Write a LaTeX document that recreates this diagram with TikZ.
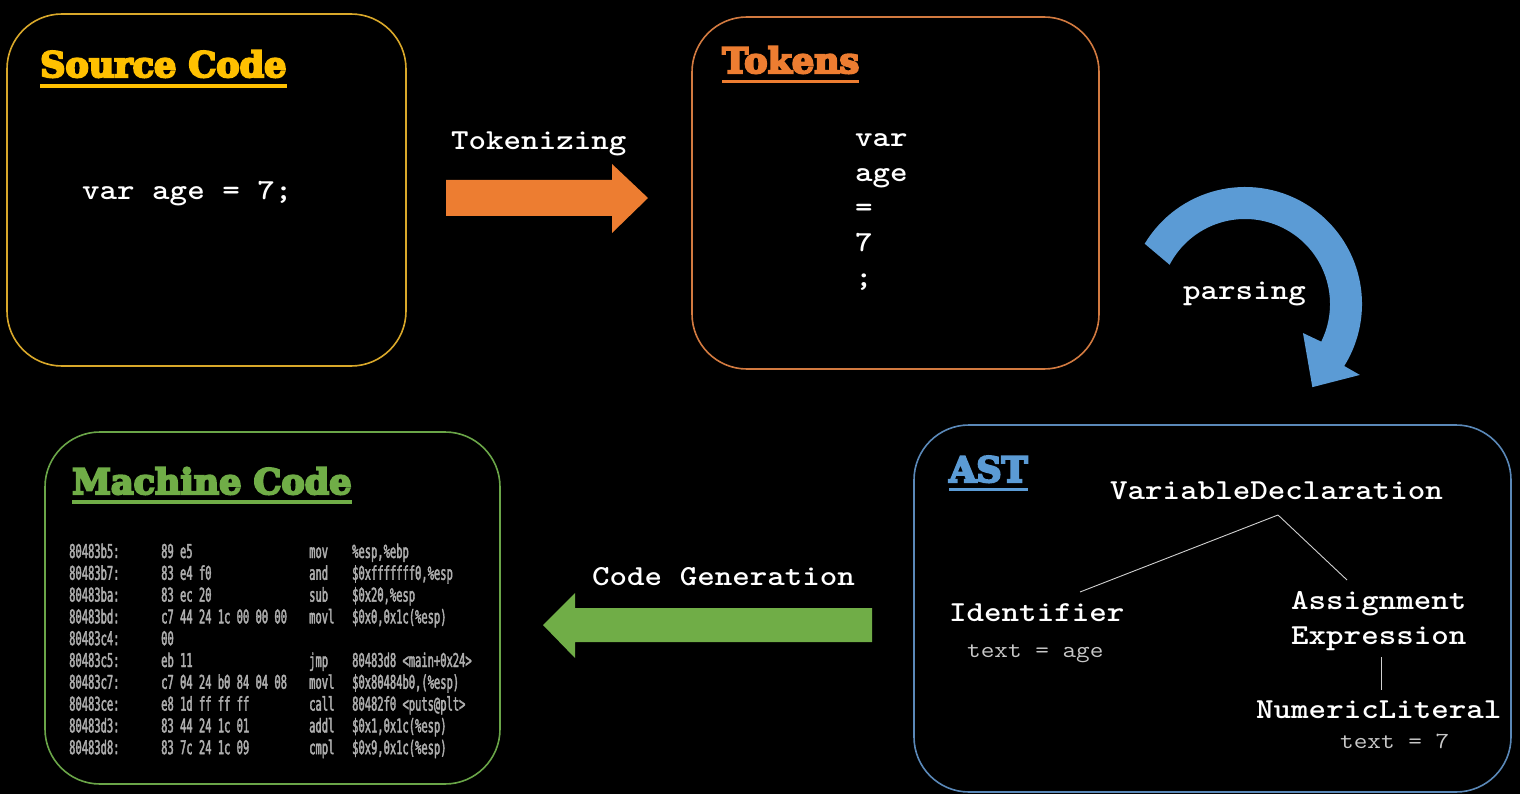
\documentclass[tikz,border=0pt]{standalone}
\usepackage{fontspec}
\usepackage{graphicx}
\newfontfamily\titlefont{DejaVu Serif}[FakeBold=6]
\newfontfamily\mcfont{DejaVu Sans Mono}[FakeStretch=0.55, FakeBold=2]
\newcommand\cw[1]{\scalebox{1.15}[1]{#1}}
\newcommand\mcrow[4]{\makebox[92pt][l]{#1}\makebox[148pt][l]{#2}\makebox[43pt][l]{#3}#4}
\definecolor{cgold}{HTML}{FFC000}
\definecolor{cgoldb}{HTML}{D9A82A}
\definecolor{corange}{HTML}{ED7D31}
\definecolor{corangeb}{HTML}{D27A40}
\definecolor{cblue}{HTML}{5B9BD5}
\definecolor{cblueb}{HTML}{5A88B8}
\definecolor{cgreen}{HTML}{70AD47}
\definecolor{cgreenb}{HTML}{6AA548}
\definecolor{subgray}{HTML}{C8C8C8}
\definecolor{mcgray}{HTML}{AEAEAE}
\definecolor{linegray}{HTML}{D0D0D0}
\begin{document}
\begin{tikzpicture}[x=1pt,y=-1pt,
  ttl/.style={font=\titlefont\bfseries\fontsize{35}{40}\selectfont, anchor=base west, inner sep=0},
  code/.style={font=\ttfamily\bfseries\fontsize{29}{35}\selectfont, text=white, anchor=base west, inner sep=0},
  sub/.style={font=\ttfamily\fontsize{23}{28}\selectfont, text=subgray, anchor=base west, inner sep=0},
  mc/.style={font=\mcfont\fontsize{19}{21.8}\selectfont, text=mcgray, anchor=base west, inner sep=0},
  panel/.style={draw, line width=1.6pt, rounded corners=55pt, inner sep=0},
  uline/.style={line width=3.5pt},
  tree/.style={draw=linegray, line width=0.9pt}]
\fill[black] (0,0) rectangle (1520,794);
\useasboundingbox (0,0) rectangle (1520,794);

% panels
\node[panel, draw=cgoldb, minimum width=399pt, minimum height=352pt] (src) at (206.5,190) {};
\node[panel, draw=corangeb, minimum width=407pt, minimum height=352pt] (tok) at (895.5,193) {};
\node[panel, draw=cblueb, minimum width=597pt, minimum height=367pt] (ast) at (1212.5,608.5) {};
\node[panel, draw=cgreenb, minimum width=455pt, minimum height=352pt] (mach) at (272.5,608) {};

% titles
\node[ttl, text=cgold] (t1) at (40,77) {Source Code};
\draw[uline, cgold] ([yshift=-9pt]t1.base west) -- ([yshift=-9pt]t1.base east);
\node[ttl, text=corange] (t2) at (722,73) {Tokens};
\draw[uline, corange] ([yshift=-8.5pt]t2.base west) -- ([yshift=-8.5pt]t2.base east);
\node[ttl, text=cblue] (t3) at (949,482) {AST};
\draw[uline, cblue] ([yshift=-7.5pt]t3.base west) -- ([yshift=-7.5pt]t3.base east);
\node[ttl, text=cgreen] (t4) at (72,494) {Machine Code};
\draw[uline, cgreen] ([yshift=-8pt]t4.base west) -- ([yshift=-8pt]t4.base east);

% source code
\node[code] (srccode) at (82,200) {\cw{var age = 7;}};

% tokens
\node[code] (k1) at (855,147) {\cw{var}};
\node[code] (k2) at (855,182) {\cw{age}};
\node[code] (k3) at (855,217) {\cw{=}};
\node[code] (k4) at (855,252) {\cw{7}};
\node[code] (k5) at (855,287) {\cw{;}};

% arrows
\fill[corange] (446,180) -- (612,180) -- (612,164) -- (648,198) -- (612,233) -- (612,216) -- (446,216) -- cycle;
\node[code] (lbltok) at (451,150) {\cw{Tokenizing}};

\begin{scope}[shift={(1245,304)}]
\fill[cblue] (211:117) arc[start angle=211, end angle=392, radius=117]
  -- (391.7:135) -- (411:107) -- (386.6:64.8) -- (386.3:85)
  arc[start angle=386.3, end angle=207.5, radius=85] -- cycle;
\end{scope}
\node[code] (lblparse) at (1183,299) {\cw{parsing}};

\fill[cgreen] (872,608) -- (575,608) -- (575,593) -- (543,625) -- (575,658) -- (575,642) -- (872,642) -- cycle;
\node[code] (lblgen) at (592,585) {\cw{Code Generation}};

% AST
\node[code] (vd) at (1110,499) {\cw{VariableDeclaration}};
\node[code] (id) at (949,621) {\cw{Identifier}};
\node[sub] (idt) at (967,657) {\cw{text = age}};
\node[code] (as1) at (1291,609) {\cw{Assignment}};
\node[code] (as2) at (1291,644) {\cw{Expression}};
\node[code] (nl) at (1256,718) {\cw{NumericLiteral}};
\node[sub] (nlt) at (1340,748) {\cw{text = 7}};
\coordinate (vdj) at (1278,515);
\coordinate (idj) at (1080,592);
\coordinate (asj) at (1347,580);
\coordinate (aej) at (1381,657);
\coordinate (nlj) at (1381,690);
\draw[tree] (vdj) -- (idj);
\draw[tree] (vdj) -- (asj);
\draw[tree] (aej) -- (nlj);

% machine code
\node[mc] (m1) at (69,558) {\mcrow{80483b5:}{89 e5}{mov}{\%esp,\%ebp}};
\node[mc] (m2) at (69,579.8) {\mcrow{80483b7:}{83 e4 f0}{and}{\$0xfffffff0,\%esp}};
\node[mc] (m3) at (69,601.6) {\mcrow{80483ba:}{83 ec 20}{sub}{\$0x20,\%esp}};
\node[mc] (m4) at (69,623.4) {\mcrow{80483bd:}{c7 44 24 1c 00 00 00}{movl}{\$0x0,0x1c(\%esp)}};
\node[mc] (m5) at (69,645.2) {\mcrow{80483c4:}{00}{}{}};
\node[mc] (m6) at (69,667) {\mcrow{80483c5:}{eb 11}{jmp}{80483d8 <main+0x24>}};
\node[mc] (m7) at (69,688.8) {\mcrow{80483c7:}{c7 04 24 b0 84 04 08}{movl}{\$0x80484b0,(\%esp)}};
\node[mc] (m8) at (69,710.6) {\mcrow{80483ce:}{e8 1d ff ff ff}{call}{80482f0 <puts@plt>}};
\node[mc] (m9) at (69,732.4) {\mcrow{80483d3:}{83 44 24 1c 01}{addl}{\$0x1,0x1c(\%esp)}};
\node[mc] (m10) at (69,754.2) {\mcrow{80483d8:}{83 7c 24 1c 09}{cmpl}{\$0x9,0x1c(\%esp)}};
\end{tikzpicture}
\end{document}
